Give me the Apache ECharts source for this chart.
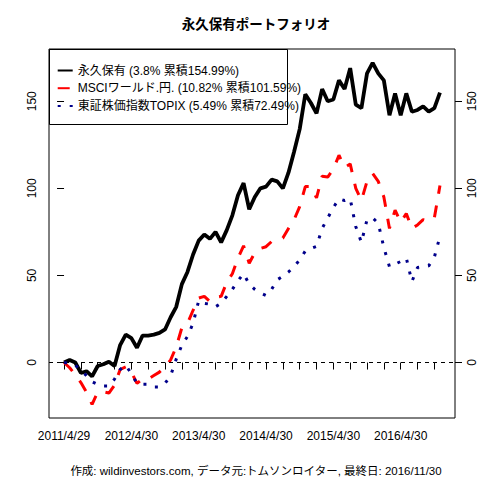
<!DOCTYPE html>
<html>
<head>
<meta charset="utf-8">
<script src="https://cdn.jsdelivr.net/npm/echarts@6.0.0/dist/echarts.min.js"></script>
<style>
html,body{margin:0;padding:0;background:#fff;}
#chart{width:480px;height:480px;}
</style>
</head>
<body>
<div id="chart"></div>
<script>
// ---- data (monthly index 0 = 2011/4/29 ... 67 = 2016/11/30), cumulative return % ----
const xTickLabels = ['2011/4/29','2012/4/30','2013/4/30','2014/4/30','2015/4/30','2016/4/30'];
const xTickLabelIdx = [0,12,24,36,48,60];
const xTickIdx = [0,3,6,9,12,15,18,21,24,27,30,33,36,39,42,45,48,51,54,57,60,63,66];
const yTicks = [0,50,100,150];

const seriesNames = [
  '永久保有 (3.8% 累積154.99%)',
  'MSCIワールド.円. (10.82% 累積101.59%)',
  '東証株価指数TOPIX (5.49% 累積72.49%)'
];

const permanent = [0,1.5,0,-6,-5,-8,-2,-1,0.5,-2,
  10,16,14,8.5,15.5,15.5,16,17,19,26,
  32,45,52,62,70,73.5,71,75,69,76,
  84.5,96,103,88,95,100,101,105,104,100,
  109,121,134,154,149,143,157,150,151,162,
  157,169,148,146,166,172,166,162,142,154.5,
  142,154.5,144,145,147,144,146,154.99];

const msci = [0,-3,-7,-11.5,-17,-24,-17,-16.8,-17.5,-13,
  -4,-2.5,-5.5,-12,-9.5,-9.5,-7.5,-5.5,-2.5,1.5,
  9,20,22.5,30,37,38,35,37.5,38,46,
  51,60,67,57,63,65.5,66.5,69.5,70.5,71.5,
  77,82,89.5,101,101,94.5,107,106.5,111,119,
  112,114,100,93,104,108.5,104,95,77,87.5,
  80.5,85.5,77,79,82,81,83,101.59];

const topix = [0,-0.5,-1.5,-4.5,-7.5,-11,-12.5,-13.5,-13.5,-9.5,
  -4,-1.5,-6.5,-12,-12.5,-12.5,-14,-14,-12,-7.5,
  2,10,15,22.5,35.5,34,33.5,32,34,38,
  42,47,51,45,42,40,38.5,42,47.5,49.5,
  52,55,59,64,65.5,66.7,77,83,89,94,
  93,94,78,69,82,83,80,66,55,56.5,
  58,60,46.5,54.5,55,55.5,60.5,72.49];

const toPairs = arr => arr.map((v, i) => [i, v]);

const FONT = "'Liberation Sans', Arial, 'Noto Sans CJK JP', sans-serif";

const chart = echarts.init(document.getElementById('chart'), null, {renderer: 'svg'});

const yAxisBase = (pos) => ({
  type: 'value',
  position: pos,
  min: -31.85,
  max: 180,
  axisLine: {show: false},
  splitLine: {show: false},
  axisTick: {show: true, inside: false, length: 7, customValues: yTicks, lineStyle: {color: '#000', width: 1}},
  axisLabel: {
    customValues: yTicks, rotate: 90, margin: 11,
    color: '#000', fontSize: 12, fontFamily: FONT
  }
});

const option = {
  animation: false,
  backgroundColor: '#fff',
  title: [
    {
      text: '永久保有ポートフォリオ',
      left: 251, top: 13, textAlign: 'center',
      textStyle: {fontSize: 13.5, fontWeight: 'bold', color: '#000', fontFamily: FONT}
    },
    {
      text: '作成: wildinvestors.com, データ元:トムソンロイター, 最終日: 2016/11/30',
      left: 251, top: 460, textAlign: 'center',
      textStyle: {fontSize: 11.5, fontWeight: 'normal', color: '#000', fontFamily: FONT}
    }
  ],
  grid: {
    left: 49, right: 25, top: 49, bottom: 62,
    show: true, borderColor: '#000', borderWidth: 1, backgroundColor: 'transparent',
    containLabel: false, outerBoundsMode: 'none'
  },
  legend: {
    show: true,
    orient: 'vertical',
    left: 49, top: 49,
    padding: [15.5, 8, 12, 7.7],
    itemWidth: 15, itemHeight: 12, itemGap: 5.7,
    itemStyle: {opacity: 0},
    textStyle: {fontSize: 12, color: '#000', fontFamily: FONT, lineHeight: 12},
    data: seriesNames
  },
  graphic: [
    {
      type: 'rect',
      shape: {x: 49.5, y: 49.5, width: 238, height: 75},
      style: {fill: 'none', stroke: '#000', lineWidth: 1},
      silent: true, z: 10
    }
  ],
  xAxis: {
    type: 'value',
    min: -2.68, max: 69.68,
    axisLine: {show: false},
    splitLine: {show: false},
    axisTick: {show: true, inside: false, length: 7, customValues: xTickIdx, lineStyle: {color: '#000', width: 1}},
    axisLabel: {
      customValues: xTickLabelIdx, margin: 12,
      color: '#000', fontSize: 12, fontFamily: FONT,
      formatter: v => {
        const k = xTickLabelIdx.indexOf(Math.round(v));
        return k >= 0 ? xTickLabels[k] : '';
      }
    }
  },
  yAxis: [yAxisBase('left'), yAxisBase('right')],
  series: [
    {
      name: seriesNames[0], type: 'line', yAxisIndex: 0,
      data: toPairs(permanent), symbol: 'none', showSymbol: false,
      lineStyle: {color: '#000', width: 3.8, type: 'solid', cap: 'butt'},
      itemStyle: {color: '#000'},
      markLine: {
        silent: true, symbol: ['none','none'], label: {show: false},
        lineStyle: {color: '#000', type: [4,4], width: 1},
        data: [{yAxis: 0}]
      },
      z: 3
    },
    {
      name: seriesNames[1], type: 'line', yAxisIndex: 0,
      data: toPairs(msci), symbol: 'none', showSymbol: false,
      lineStyle: {color: '#ff0000', width: 3, type: [12,12], cap: 'butt'},
      itemStyle: {color: '#ff0000'},
      z: 4
    },
    {
      name: seriesNames[2], type: 'line', yAxisIndex: 0,
      data: toPairs(topix), symbol: 'none', showSymbol: false,
      lineStyle: {color: '#00008b', width: 3, type: [3,9], cap: 'butt'},
      itemStyle: {color: '#00008b'},
      z: 5
    }
  ]
};

chart.setOption(option);
</script>
</body>
</html>
